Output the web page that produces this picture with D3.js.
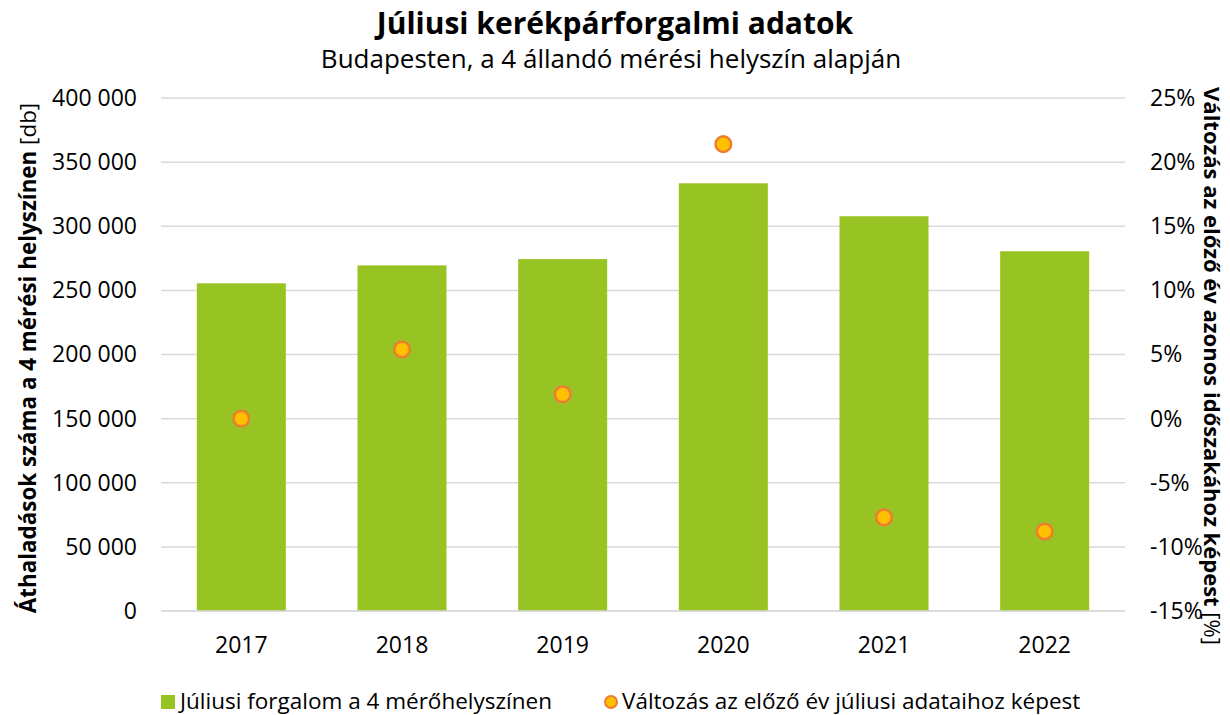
<!DOCTYPE html>
<html>
<head>
<meta charset="utf-8">
<script src="https://cdn.jsdelivr.net/npm/d3@7"></script>
<style>
  body { margin: 0; background: #fff; }
  text { font-family: "Open Sans", "Noto Sans", sans-serif; fill: #000; }
</style>
</head>
<body>
<div id="chart-area"></div>
<script>
// data
let years = ["2017", "2018", "2019", "2020", "2021", "2022"];
let traffic = [255500, 269500, 274400, 333500, 307800, 280500];
let change = [0.0, 5.4, 1.9, 21.4, -7.7, -8.8];
let leftTicks = [0, 50000, 100000, 150000, 200000, 250000, 300000, 350000, 400000];
let rightTicks = [-15, -10, -5, 0, 5, 10, 15, 20, 25];

let W = 1230, H = 715;
let margin = {top: 98, right: 105, bottom: 104, left: 161};
let width = W - margin.left - margin.right,
    height = H - margin.top - margin.bottom;

let svg = d3.select("#chart-area").append("svg")
    .attr("width", W)
    .attr("height", H);

let g = svg.append("g")
    .attr("transform", "translate(" + margin.left + "," + margin.top + ")");

// scales
let x = d3.scaleBand()
    .domain(years)
    .range([0, width])
    .paddingInner(0.446)
    .paddingOuter(0.223);

let y = d3.scaleLinear().domain([0, 400000]).range([height, 0]);
let y2 = d3.scaleLinear().domain([-15, 25]).range([height, 0]);

let fmt = d => d3.format(",")(d).replace(/,/g, " ");

// gridlines
g.selectAll(".grid")
    .data(leftTicks)
  .enter().append("line")
    .attr("class", "grid")
    .attr("x1", 0)
    .attr("x2", width)
    .attr("y1", d => y(d))
    .attr("y2", d => y(d))
    .attr("stroke", "#d9d9d9")
    .attr("stroke-width", 1.5);

// bars
g.selectAll(".bar")
    .data(years)
  .enter().append("rect")
    .attr("class", "bar")
    .attr("x", d => x(d))
    .attr("y", (d, i) => y(traffic[i]))
    .attr("width", x.bandwidth())
    .attr("height", (d, i) => height - y(traffic[i]))
    .attr("fill", "#98c423");

// baseline
g.append("line")
    .attr("x1", 0).attr("x2", width)
    .attr("y1", height).attr("y2", height)
    .attr("stroke", "#d9d9d9")
    .attr("stroke-width", 1.5);

// points
g.selectAll(".dot")
    .data(years)
  .enter().append("circle")
    .attr("class", "dot")
    .attr("cx", d => x(d) + x.bandwidth() / 2)
    .attr("cy", (d, i) => y2(change[i]))
    .attr("r", 7.8)
    .attr("fill", "#ffc000")
    .attr("stroke", "#ed7d31")
    .attr("stroke-width", 2.5);

// axes
let xAxis = g.append("g")
    .attr("transform", "translate(0," + height + ")")
    .call(d3.axisBottom(x).tickSize(0).tickPadding(26));

let yAxis = g.append("g")
    .call(d3.axisLeft(y).tickValues(leftTicks).tickFormat(fmt).tickSize(0).tickPadding(24));

let yAxis2 = g.append("g")
    .attr("transform", "translate(" + width + ",0)")
    .call(d3.axisRight(y2).tickValues(rightTicks).tickFormat(d => d + "%").tickSize(0).tickPadding(25));

[xAxis, yAxis, yAxis2].forEach(a => {
    a.select(".domain").remove();
    a.selectAll("text")
        .style("font-size", "23px")
        .attr("fill", "#000");
});

// titles
svg.append("text")
    .attr("x", 615)
    .attr("y", 34)
    .attr("text-anchor", "middle")
    .style("font-size", "30px")
    .style("font-weight", "bold")
    .text("Júliusi kerékpárforgalmi adatok");

svg.append("text")
    .attr("x", 611)
    .attr("y", 68)
    .attr("text-anchor", "middle")
    .style("font-size", "26px")
    .text("Budapesten, a 4 állandó mérési helyszín alapján");

// left axis title
let lt = svg.append("text")
    .attr("transform", "translate(36,358) rotate(-90)")
    .attr("text-anchor", "middle")
    .style("font-size", "22.4px");
lt.append("tspan").style("font-weight", "bold").text("Áthaladások száma a 4 mérési helyszínen");
lt.append("tspan").text(" [db]");

// right axis title
let rt = svg.append("text")
    .attr("transform", "translate(1204,366) rotate(90)")
    .attr("text-anchor", "middle")
    .style("font-size", "22px");
rt.append("tspan").style("font-weight", "bold").text("Változás az előző év azonos időszakához képest");
rt.append("tspan").text(" [%]");

// legend
let legend = svg.append("g").attr("transform", "translate(0,702)");
legend.append("rect")
    .attr("x", 161).attr("y", -7)
    .attr("width", 14).attr("height", 14)
    .attr("fill", "#98c423");
legend.append("text")
    .attr("x", 180).attr("y", 6.5)
    .style("font-size", "22.5px")
    .text("Júliusi forgalom a 4 mérőhelyszínen");
legend.append("circle")
    .attr("cx", 611).attr("cy", 0)
    .attr("r", 6)
    .attr("fill", "#ffc000")
    .attr("stroke", "#ed7d31")
    .attr("stroke-width", 2);
legend.append("text")
    .attr("x", 622).attr("y", 6.5)
    .style("font-size", "22.5px")
    .text("Változás az előző év júliusi adataihoz képest");
</script>
</body>
</html>
